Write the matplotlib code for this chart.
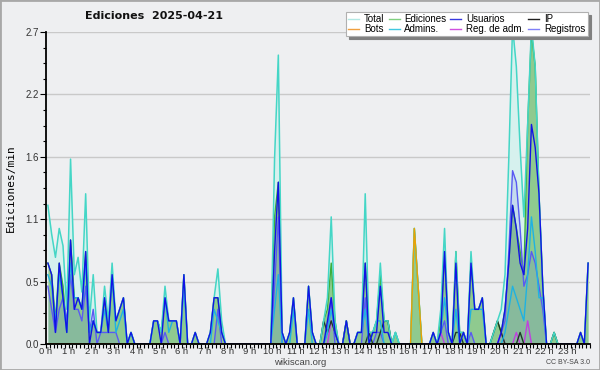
import numpy as np
import matplotlib
matplotlib.use("Agg")
import matplotlib.pyplot as plt
from matplotlib.lines import Line2D
from matplotlib.patches import Rectangle
from matplotlib.ticker import FixedLocator, MultipleLocator

# ediciones por minuto, en tramos de 10 min (6 por hora, 24 horas)
total = [
    1.2, 0.95, 0.75, 1.0, 0.85, 0.3,   # 0 h
    1.6, 0.6, 0.75, 0.45, 1.3, 0.2,    # 1 h
    0.6, 0.1, 0.1, 0.5, 0.2, 0.7,      # 2 h
    0.2, 0.3, 0.4, 0.0, 0.1, 0.0,      # 3 h
    0.0, 0.0, 0.0, 0.0, 0.2, 0.2,      # 4 h
    0.1, 0.5, 0.2, 0.2, 0.2, 0.0,      # 5 h
    0.6, 0.0, 0.0, 0.1, 0.0, 0.0,      # 6 h
    0.0, 0.1, 0.4, 0.65, 0.2, 0.0,     # 7 h
    0.0, 0.0, 0.0, 0.0, 0.0, 0.0,      # 8 h
    0.0, 0.0, 0.0, 0.0, 0.0, 0.0,      # 9 h
    1.6, 2.5, 0.1, 0.0, 0.1, 0.4,      # 10 h
    0.0, 0.0, 0.0, 0.5, 0.1, 0.0,      # 11 h
    0.0, 0.2, 0.4, 1.1, 0.2, 0.0,      # 12 h
    0.0, 0.2, 0.0, 0.0, 0.1, 0.1,      # 13 h
    1.3, 0.1, 0.1, 0.2, 0.7, 0.2,      # 14 h
    0.2, 0.0, 0.1, 0.0, 0.0, 0.0,      # 15 h
    0.0, 1.0, 0.5, 0.0, 0.0, 0.0,      # 16 h
    0.1, 0.0, 0.3, 1.0, 0.1, 0.0,      # 17 h
    0.8, 0.1, 0.1, 0.0, 0.8, 0.3,      # 18 h
    0.3, 0.4, 0.0, 0.0, 0.1, 0.2,      # 19 h
    0.3, 0.6, 1.6, 2.75, 2.4, 1.7,     # 20 h
    1.1, 1.9, 2.75, 2.4, 1.3, 0.5,     # 21 h
    0.0, 0.0, 0.1, 0.0, 0.0, 0.0,      # 22 h
    0.0, 0.0, 0.0, 0.1, 0.0, 0.7,      # 23 h
]
ediciones = [
    0.7, 0.6, 0.2, 0.7, 0.5, 0.1,
    0.9, 0.4, 0.4, 0.3, 0.8, 0.1,
    0.2, 0.1, 0.1, 0.4, 0.1, 0.6,
    0.2, 0.3, 0.4, 0.0, 0.1, 0.0,
    0.0, 0.0, 0.0, 0.0, 0.2, 0.2,
    0.1, 0.4, 0.2, 0.2, 0.2, 0.0,
    0.6, 0.0, 0.0, 0.1, 0.0, 0.0,
    0.0, 0.1, 0.4, 0.4, 0.1, 0.0,
    0.0, 0.0, 0.0, 0.0, 0.0, 0.0,
    0.0, 0.0, 0.0, 0.0, 0.0, 0.0,
    1.1, 1.4, 0.1, 0.0, 0.1, 0.4,
    0.0, 0.0, 0.0, 0.5, 0.1, 0.0,
    0.0, 0.2, 0.3, 0.7, 0.2, 0.0,
    0.0, 0.2, 0.0, 0.0, 0.1, 0.1,
    0.7, 0.1, 0.1, 0.2, 0.6, 0.2,
    0.2, 0.0, 0.1, 0.0, 0.0, 0.0,
    0.0, 1.0, 0.5, 0.0, 0.0, 0.0,
    0.1, 0.0, 0.2, 0.8, 0.1, 0.0,
    0.8, 0.1, 0.1, 0.0, 0.7, 0.3,
    0.3, 0.4, 0.0, 0.0, 0.1, 0.2,
    0.1, 0.3, 0.7, 1.2, 1.0, 0.8,
    0.6, 1.9, 2.7, 2.4, 1.3, 0.5,
    0.0, 0.0, 0.1, 0.0, 0.0, 0.0,
    0.0, 0.0, 0.0, 0.1, 0.0, 0.7,
]
usuarios = [
    0.7, 0.6, 0.1, 0.7, 0.4, 0.1,
    0.9, 0.3, 0.4, 0.3, 0.8, 0.0,
    0.2, 0.1, 0.1, 0.4, 0.1, 0.6,
    0.2, 0.3, 0.4, 0.0, 0.1, 0.0,
    0.0, 0.0, 0.0, 0.0, 0.2, 0.2,
    0.0, 0.4, 0.2, 0.2, 0.2, 0.0,
    0.6, 0.0, 0.0, 0.1, 0.0, 0.0,
    0.0, 0.1, 0.4, 0.4, 0.1, 0.0,
    0.0, 0.0, 0.0, 0.0, 0.0, 0.0,
    0.0, 0.0, 0.0, 0.0, 0.0, 0.0,
    0.8, 1.4, 0.1, 0.0, 0.1, 0.4,
    0.0, 0.0, 0.0, 0.5, 0.1, 0.0,
    0.0, 0.0, 0.2, 0.4, 0.1, 0.0,
    0.0, 0.2, 0.0, 0.0, 0.1, 0.1,
    0.7, 0.0, 0.1, 0.1, 0.5, 0.1,
    0.1, 0.0, 0.0, 0.0, 0.0, 0.0,
    0.0, 0.0, 0.0, 0.0, 0.0, 0.0,
    0.1, 0.0, 0.1, 0.8, 0.1, 0.0,
    0.7, 0.0, 0.1, 0.0, 0.7, 0.3,
    0.3, 0.4, 0.0, 0.0, 0.0, 0.0,
    0.1, 0.3, 0.7, 1.2, 1.0, 0.7,
    0.6, 1.0, 1.9, 1.7, 1.3, 0.5,
    0.0, 0.0, 0.0, 0.0, 0.0, 0.0,
    0.0, 0.0, 0.0, 0.1, 0.0, 0.7,
]
ip = [
    0.0, 0.0, 0.0, 0.0, 0.0, 0.0,
    0.0, 0.0, 0.0, 0.0, 0.0, 0.0,
    0.0, 0.0, 0.0, 0.0, 0.0, 0.0,
    0.0, 0.0, 0.0, 0.0, 0.0, 0.0,
    0.0, 0.0, 0.0, 0.0, 0.0, 0.0,
    0.0, 0.0, 0.0, 0.0, 0.0, 0.0,
    0.0, 0.0, 0.0, 0.0, 0.0, 0.0,
    0.0, 0.0, 0.0, 0.0, 0.0, 0.0,
    0.0, 0.0, 0.0, 0.0, 0.0, 0.0,
    0.0, 0.0, 0.0, 0.0, 0.0, 0.0,
    0.0, 0.0, 0.0, 0.0, 0.0, 0.0,
    0.0, 0.0, 0.0, 0.0, 0.0, 0.0,
    0.0, 0.2, 0.1, 0.2, 0.1, 0.0,
    0.0, 0.2, 0.0, 0.0, 0.0, 0.0,
    0.0, 0.1, 0.0, 0.0, 0.1, 0.2,
    0.2, 0.0, 0.0, 0.0, 0.0, 0.0,
    0.0, 0.0, 0.0, 0.0, 0.0, 0.0,
    0.0, 0.0, 0.0, 0.0, 0.0, 0.0,
    0.1, 0.1, 0.0, 0.0, 0.0, 0.0,
    0.0, 0.0, 0.0, 0.0, 0.1, 0.2,
    0.1, 0.0, 0.0, 0.0, 0.0, 0.1,
    0.0, 0.0, 0.0, 0.0, 0.0, 0.0,
    0.0, 0.0, 0.1, 0.0, 0.0, 0.0,
    0.0, 0.0, 0.0, 0.0, 0.0, 0.0,
]
bots = [0.0] * 96 + [0.0, 1.0, 0.5] + [0.0] * 45
admins = [
    0.6, 0.5, 0.2, 0.6, 0.4, 0.1,
    0.7, 0.4, 0.4, 0.3, 0.7, 0.1,
    0.2, 0.1, 0.1, 0.3, 0.1, 0.6,
    0.1, 0.2, 0.3, 0.0, 0.1, 0.0,
    0.0, 0.0, 0.0, 0.0, 0.2, 0.2,
    0.1, 0.4, 0.1, 0.2, 0.2, 0.0,
    0.5, 0.0, 0.0, 0.0, 0.0, 0.0,
    0.0, 0.0, 0.3, 0.2, 0.1, 0.0,
    0.0, 0.0, 0.0, 0.0, 0.0, 0.0,
    0.0, 0.0, 0.0, 0.0, 0.0, 0.0,
    0.3, 0.6, 0.0, 0.0, 0.0, 0.3,
    0.0, 0.0, 0.0, 0.3, 0.0, 0.0,
    0.0, 0.0, 0.1, 0.3, 0.1, 0.0,
    0.0, 0.0, 0.0, 0.0, 0.1, 0.1,
    0.3, 0.0, 0.1, 0.2, 0.2, 0.0,
    0.0, 0.0, 0.1, 0.0, 0.0, 0.0,
    0.0, 0.0, 0.0, 0.0, 0.0, 0.0,
    0.0, 0.0, 0.1, 0.4, 0.1, 0.0,
    0.3, 0.0, 0.1, 0.0, 0.3, 0.3,
    0.3, 0.3, 0.0, 0.0, 0.0, 0.0,
    0.0, 0.1, 0.3, 0.5, 0.4, 0.3,
    0.2, 0.6, 1.1, 0.8, 0.4, 0.4,
    0.0, 0.0, 0.0, 0.0, 0.0, 0.0,
    0.0, 0.0, 0.0, 0.0, 0.0, 0.0,
]
reg_adm = [0.0] * 75 + [0.2, 0.1] + [0.0] * 27 + [0.1] + [0.0] * 15 \
    + [0.1, 0.0, 0.0, 0.0, 0.1, 0.0, 0.0, 0.2] + [0.0] * 16
registros = [
    0.5, 0.3, 0.1, 0.3, 0.4, 0.2,
    0.6, 0.3, 0.3, 0.2, 0.5, 0.1,
    0.3, 0.0, 0.1, 0.1, 0.1, 0.1,
    0.1, 0.0, 0.0, 0.0, 0.0, 0.0,
    0.0, 0.0, 0.0, 0.0, 0.0, 0.0,
    0.0, 0.1, 0.0, 0.0, 0.0, 0.0,
    0.0, 0.0, 0.0, 0.0, 0.0, 0.0,
    0.0, 0.0, 0.0, 0.3, 0.0, 0.0,
    0.0, 0.0, 0.0, 0.0, 0.0, 0.0,
    0.0, 0.0, 0.0, 0.0, 0.0, 0.0,
    0.5, 1.1, 0.0, 0.0, 0.0, 0.0,
    0.0, 0.0, 0.0, 0.0, 0.0, 0.0,
    0.0, 0.0, 0.1, 0.4, 0.0, 0.0,
    0.0, 0.0, 0.0, 0.0, 0.0, 0.0,
    0.4, 0.0, 0.0, 0.1, 0.1, 0.0,
    0.0, 0.0, 0.0, 0.0, 0.0, 0.0,
    0.0, 0.0, 0.0, 0.0, 0.0, 0.0,
    0.0, 0.0, 0.1, 0.2, 0.0, 0.0,
    0.0, 0.0, 0.0, 0.0, 0.1, 0.0,
    0.0, 0.0, 0.0, 0.0, 0.0, 0.0,
    0.1, 0.2, 0.8, 1.5, 1.4, 1.0,
    0.5, 0.6, 0.8, 0.7, 0.5, 0.3,
    0.0, 0.0, 0.0, 0.0, 0.0, 0.0,
    0.0, 0.0, 0.0, 0.0, 0.0, 0.0,
]

hour_labels = ["%d h" % h for h in range(24)]
ytick_vals = [0.0, 0.54, 1.08, 1.62, 2.16, 2.7]
ytick_labels = ["0.0", "0.5", "1.1", "1.6", "2.2", "2.7"]

BG = "#eeeff1"
SANS = "Liberation Sans"

fig = plt.figure(figsize=(6.0, 3.7), dpi=100, facecolor=BG)
ax = fig.add_axes([46 / 600, 26 / 370, 544 / 600, 312 / 370], facecolor=BG)

x = (np.arange(len(total)) + 0.5) / 6.0

ax.fill_between(x, total, color="#d6f1ee", lw=0, zorder=1)
ax.fill_between(x, ediciones, color="#8fca8f", lw=0, zorder=1.1)
ax.fill_between(x, registros, color="#5a5af2", alpha=0.14, lw=0, zorder=1.15)
ax.plot(x, ediciones, color="#3cae3c", lw=1.0, zorder=1.2)
ax.plot(x, registros, color="#5a5af2", lw=1.0, zorder=1.3)
ax.plot(x, reg_adm, color="#c040e0", lw=1.0, zorder=1.4)
ax.plot(x, ip, color="#1e3a26", lw=1.0, zorder=1.5)
ax.plot(x, admins, color="#1fb2e2", lw=1.0, zorder=1.6)
ax.plot(x, total, color="#44d6c6", lw=1.1, zorder=1.7)
ax.plot(x, bots, color="#f0a000", lw=1.0, zorder=1.8)
ax.plot(x, usuarios, color="#1212e6", lw=1.0, zorder=1.9)

ax.set_xlim(0, 24)
ax.set_ylim(0, 2.7)
ax.set_xticks(range(24))
ax.set_xticklabels(hour_labels, family=SANS)
ax.xaxis.set_minor_locator(MultipleLocator(1 / 6))
ax.yaxis.set_major_locator(FixedLocator(ytick_vals))
ax.set_yticklabels(ytick_labels, family=SANS)
ax.yaxis.set_minor_locator(MultipleLocator(0.135))
ax.yaxis.grid(True, color="#c9c9c9", lw=1.0)
ax.set_axisbelow(True)

for s in ("top", "right"):
    ax.spines[s].set_visible(False)
for s in ("left", "bottom"):
    ax.spines[s].set_color("black")
    ax.spines[s].set_linewidth(1.3)
    ax.spines[s].set_zorder(3)

ax.tick_params(axis="both", which="major", labelsize=7, colors="black",
               labelcolor="#333333", length=4, width=0.8, pad=1)
ax.tick_params(axis="both", which="minor", length=2.5, width=0.8)
ax.tick_params(axis="x", which="major", length=3, pad=-0.5, labelsize=6.8)
ax.tick_params(axis="x", which="minor", length=3)

ax.set_ylabel("Ediciones/min", family="DejaVu Sans Mono", fontsize=8, labelpad=7)

fig.text(85 / 600, 1 - 16 / 370, "Ediciones  2025-04-21", fontsize=8,
         fontweight="bold", ha="left", va="center", color="#111111")
fig.text(300 / 600, 1 - 362.5 / 370, "wikiscan.org", fontsize=6.8, family=SANS,
         ha="center", va="center", color="#444444")
fig.text(590 / 600, 1 - 362.5 / 370, "CC BY-SA 3.0", fontsize=5, family=SANS,
         ha="right", va="center", color="#444444")

# borde gris del cuadro
fig.add_artist(Rectangle((0, 0), 1, 1, transform=fig.transFigure, fill=False,
                         edgecolor="#a8a8a8", lw=2.0))

handles = [
    Line2D([], [], color="#b2e8e4", lw=1.0), Line2D([], [], color="#f0a040", lw=1.0),
    Line2D([], [], color="#80d080", lw=1.0), Line2D([], [], color="#40c8e0", lw=1.0),
    Line2D([], [], color="#3838e0", lw=1.0), Line2D([], [], color="#d050e0", lw=1.0),
    Line2D([], [], color="#202020", lw=1.0), Line2D([], [], color="#8080f8", lw=1.0),
]
labels = ["Total", "Bots", "Ediciones", "Admins.", "Usuarios", "Reg. de adm.",
          "IP", "Registros"]
leg = fig.legend(handles, labels, ncol=4, loc="upper left",
                 bbox_to_anchor=(346 / 600, 1 - 12 / 370),
                 prop={"family": SANS, "size": 7},
                 frameon=True, fancybox=False, shadow={"color": "0.5", "alpha": 1.0},
                 handlelength=1.13, handletextpad=0.5, columnspacing=0.4,
                 labelspacing=-0.05, borderpad=0.25, borderaxespad=0)
leg.get_frame().set_edgecolor("#b0b0b0")
leg.get_frame().set_facecolor("white")
leg.get_frame().set_linewidth(0.8)

fig.savefig("out.png", dpi=100, facecolor=BG)
